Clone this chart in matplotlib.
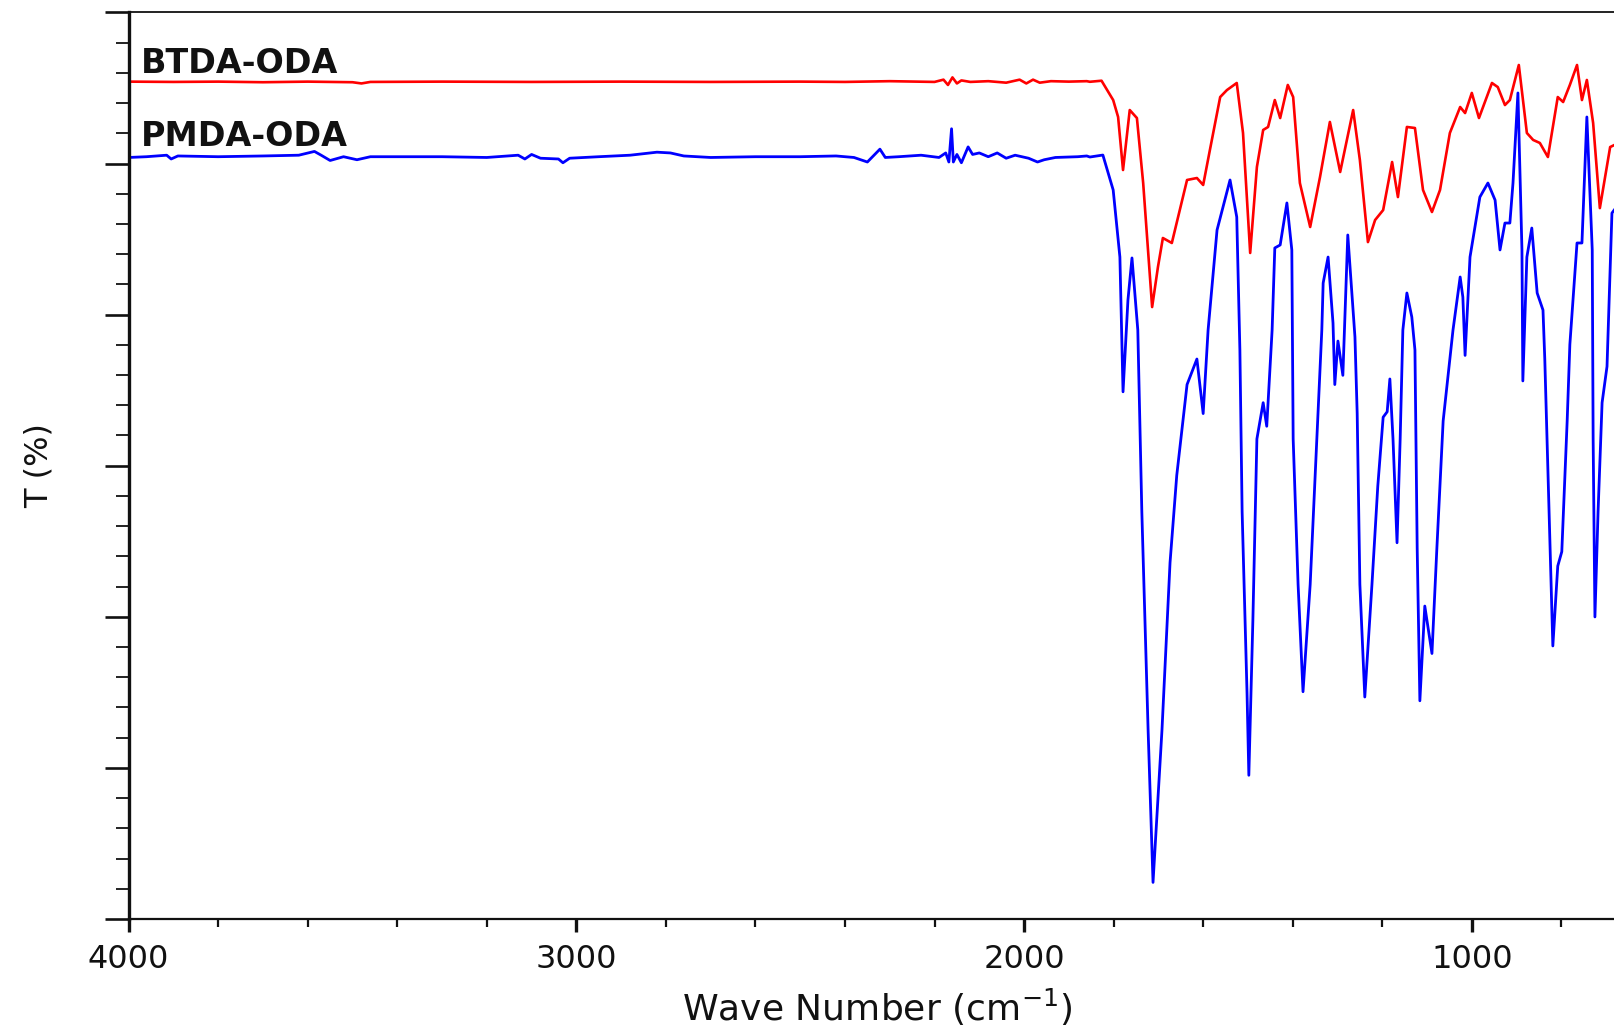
import matplotlib
matplotlib.use("Agg")
import matplotlib.pyplot as plt
from matplotlib.ticker import MultipleLocator, NullFormatter

plt.rcParams['font.family'] = ['DejaVu Sans']

# FTIR transmittance spectra of two polyimide films (wavenumber in cm^-1, T in arbitrary %)
btda_wn = [4000, 3900, 3800, 3700, 3600, 3500, 3480, 3460, 3300, 3100, 2900, 2700, 2500,
           2400, 2300, 2200, 2180, 2170, 2160, 2150, 2140, 2120, 2080, 2040, 2010, 1995,
           1980, 1965, 1940, 1900, 1860,
           1853, 1827, 1801, 1790, 1779, 1764, 1748, 1734, 1714, 1701, 1690, 1670, 1656,
           1636, 1614, 1600, 1585, 1562, 1547, 1525, 1511, 1495, 1480, 1466, 1455, 1440,
           1428, 1411, 1399, 1384, 1361, 1339, 1317, 1294, 1265, 1250, 1232, 1216, 1198,
           1178, 1165, 1145, 1127, 1109, 1089, 1071, 1049, 1026, 1015, 1000, 984, 955,
           942, 926, 915, 895, 877, 863, 848, 830, 808, 796, 781, 765, 754, 743, 729,
           714, 691, 682]
btda_t = [55.42, 55.40, 55.42, 55.38, 55.42, 55.38, 55.30, 55.40, 55.42, 55.40, 55.42, 55.40,
          55.42, 55.40, 55.45, 55.40, 55.55, 55.20, 55.70, 55.30, 55.50, 55.40, 55.45,
          55.35, 55.55, 55.30, 55.55, 55.35, 55.45, 55.42, 55.45,
          55.41, 55.48, 54.20, 53.08, 49.57, 53.54, 53.01, 48.71, 40.50, 43.15, 45.07,
          44.74, 46.46, 48.91, 49.04, 48.58, 50.89, 54.40, 54.86, 55.33, 52.02, 44.08,
          49.77, 52.22, 52.42, 54.20, 53.01, 55.20, 54.40, 48.71, 45.80, 49.11, 52.75,
          49.44, 53.54, 50.23, 44.80, 46.26, 46.92, 50.10, 47.78, 52.42, 52.35, 48.25,
          46.79, 48.25, 52.02, 53.74, 53.34, 54.67, 53.01, 55.33, 55.06, 53.87, 54.20,
          56.52, 52.02, 51.56, 51.36, 50.43, 54.40, 54.07, 55.20, 56.52, 54.20, 55.53,
          52.68, 47.05, 51.09, 51.22]

pmda_wn = [4000, 3960, 3915, 3905, 3890, 3800, 3700, 3620, 3585, 3570, 3550, 3520, 3490,
           3460, 3400, 3300, 3200, 3130, 3115, 3100, 3080, 3040, 3030, 3015, 2950, 2880,
           2820, 2790, 2760, 2700, 2600, 2500, 2420, 2380, 2350, 2335, 2322, 2310, 2280,
           2230, 2190, 2175, 2168, 2162, 2158, 2150, 2140, 2125, 2115, 2100, 2080, 2060,
           2040, 2020, 1990, 1970, 1955, 1930, 1880, 1860,
           1853, 1824, 1801, 1786, 1779, 1768, 1759, 1746, 1737, 1723, 1712, 1692, 1674,
           1659, 1636, 1614, 1600, 1589, 1569, 1540, 1525, 1518, 1513, 1502, 1498, 1489,
           1480, 1466, 1458, 1446, 1440, 1428, 1413, 1402, 1399, 1388, 1377, 1361, 1346,
           1335, 1332, 1321, 1310, 1306, 1299, 1288, 1277, 1261, 1256, 1250, 1239, 1223,
           1210, 1198, 1189, 1183, 1176, 1167, 1160, 1154, 1145, 1134, 1127, 1122, 1116,
           1105, 1089, 1078, 1064, 1042, 1026, 1020, 1015, 1004, 982, 964, 948, 937, 926,
           915, 908, 897, 888, 886, 877, 866, 854, 841, 837, 825, 819, 808, 799, 787, 781,
           765, 754, 743, 731, 729, 725, 718, 709, 698, 687, 682]
pmda_t = [50.40, 50.45, 50.55, 50.30, 50.50, 50.45, 50.50, 50.55, 50.80, 50.55, 50.20, 50.45,
          50.25, 50.45, 50.45, 50.45, 50.40, 50.55, 50.30, 50.60, 50.35, 50.30, 50.05,
          50.35, 50.45, 50.55, 50.75, 50.70, 50.50, 50.40, 50.45, 50.45, 50.50, 50.40,
          50.10, 50.55, 50.95, 50.40, 50.45, 50.55, 50.40, 50.70, 50.10, 52.30, 50.10,
          50.60, 50.05, 51.10, 50.60, 50.70, 50.45, 50.70, 50.35, 50.55, 50.35, 50.10,
          50.25, 50.40, 50.45, 50.50,
          50.43, 50.56, 48.25, 43.81, 34.89, 40.97, 43.75, 38.98, 26.95, 12.51, 2.42,
          12.51, 23.59, 29.36, 35.37, 37.06, 33.45, 38.98, 45.60, 48.91, 46.46, 37.66,
          26.95, 14.92, 9.51, 19.74, 31.77, 34.17, 32.61, 38.98, 44.41, 44.61, 47.39,
          44.28, 31.77, 22.14, 15.04, 22.14, 31.77, 38.98, 42.09, 43.81, 39.44, 35.37,
          38.25, 35.98, 45.27, 38.52, 33.45, 22.14, 14.69, 22.14, 28.64, 33.21, 33.57,
          35.74, 31.77, 24.90, 31.77, 38.98, 41.43, 39.84, 37.66, 24.55, 14.44, 20.71,
          17.57, 24.55, 32.96, 38.98, 42.49, 41.16, 37.30, 43.81, 47.78, 48.71, 47.58,
          44.28, 46.06, 46.06, 48.71, 54.67, 44.28, 35.61, 43.81, 45.73, 41.43, 40.30,
          37.06, 24.55, 18.07, 23.36, 24.31, 32.96, 38.02, 44.74, 44.74, 53.08, 44.28,
          31.77, 19.99, 26.95, 34.17, 36.57, 46.72, 46.92]

series_names = ["BTDA-ODA", "PMDA-ODA"]
x_ticks = [4000, 3000, 2000, 1000]

fig = plt.figure(figsize=(16.14, 10.27), dpi=100)
ax = fig.add_axes([0.0797, 0.1052, 0.9203, 0.8827])

ax.plot(btda_wn, btda_t, color="#ff0000", lw=1.9, solid_joinstyle="round")
ax.plot(pmda_wn, pmda_t, color="#0000ff", lw=2.0, solid_joinstyle="round")

ax.set_xlim(4000, 682.4)
ax.set_ylim(0, 60)

ax.set_xticks(x_ticks)
ax.xaxis.set_minor_locator(MultipleLocator(200))
ax.yaxis.set_major_locator(MultipleLocator(10))
ax.yaxis.set_minor_locator(MultipleLocator(2))
ax.yaxis.set_major_formatter(NullFormatter())

ax.tick_params(axis="x", which="major", direction="out", length=9, width=2.4,
               labelsize=23, pad=9, colors="#111111")
ax.tick_params(axis="x", which="minor", direction="out", length=5.5, width=1.6,
               colors="#111111")
ax.tick_params(axis="y", which="major", direction="out", length=17, width=1.9,
               labelleft=False, colors="#111111")
ax.tick_params(axis="y", which="minor", direction="out", length=9.5, width=1.3,
               colors="#111111")

ax.spines["right"].set_visible(False)
ax.spines["left"].set_linewidth(2.4)
ax.spines["bottom"].set_linewidth(1.6)
ax.spines["top"].set_linewidth(1.3)
for s in ("left", "bottom", "top"):
    ax.spines[s].set_color("#111111")

# curve names written above each trace
ax.text(3972, 56.0, series_names[0], fontsize=24, fontweight="bold",
        ha="left", va="baseline", color="#111111")
ax.text(3972, 51.19, series_names[1], fontsize=24, fontweight="bold",
        ha="left", va="baseline", color="#111111")

fig.text(0.5434, 0.0195, r"Wave Number (cm$^{-1}$)", fontsize=26,
         ha="center", va="center", color="#111111")
fig.text(0.0242, 0.5463, "T (%)", fontsize=23, rotation=90,
         ha="center", va="center", color="#111111")

fig.savefig("out.png", dpi=100)
